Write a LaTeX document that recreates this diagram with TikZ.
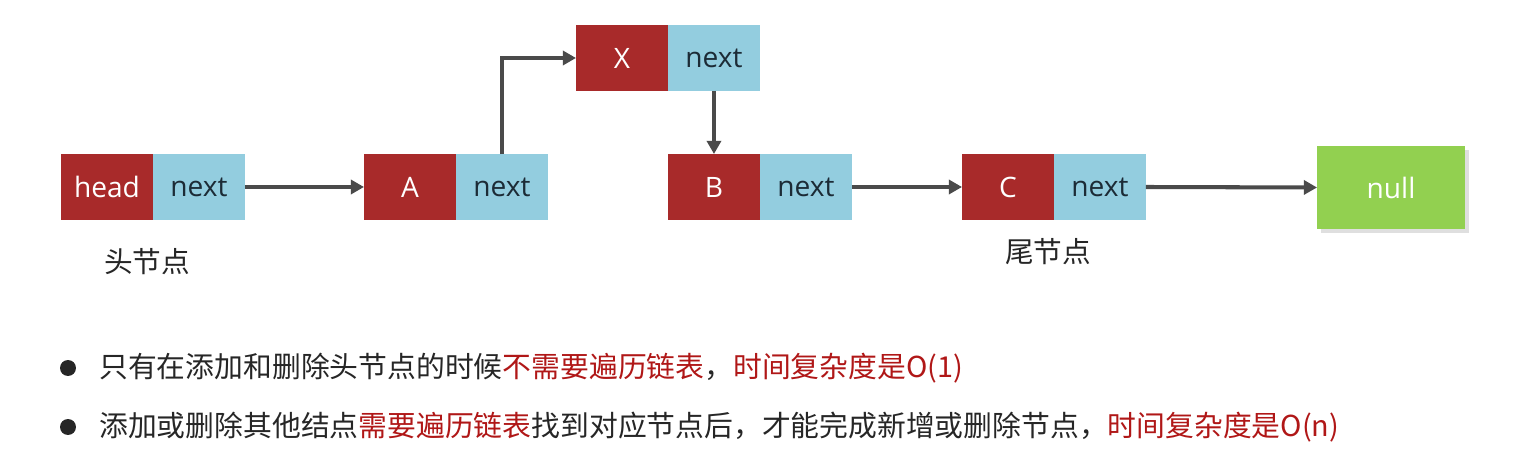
\documentclass[tikz,border=0pt]{standalone}
\usepackage{fontspec}
\setmainfont{Open Sans}
\newfontfamily\cjk{Noto Sans CJK SC}
\usetikzlibrary{arrows.meta,positioning,shadows}
\definecolor{CellRed}{HTML}{A82A2A}
\definecolor{CellBlue}{HTML}{93CDDF}
\definecolor{CellGreen}{HTML}{92D050}
\definecolor{PtrInk}{HTML}{1C2B36}
\definecolor{ArrowGray}{HTML}{4A4A4A}
\definecolor{Ink}{HTML}{262626}
\definecolor{Warn}{HTML}{B01717}

\begin{document}
\begin{tikzpicture}[
  x=0.02cm,y=-0.02cm,
  data/.style={fill=CellRed, text=white, minimum width=1.84cm, minimum height=1.32cm, inner sep=0pt, outer sep=0pt, font=\fontsize{16}{19}\selectfont},
  ptr/.style={fill=CellBlue, text=PtrInk, minimum width=1.84cm, minimum height=1.32cm, inner sep=0pt, outer sep=0pt, font=\fontsize{16}{19}\selectfont},
  nullbox/.style={fill=CellGreen, text=white, minimum width=2.96cm, minimum height=1.66cm, inner sep=0pt, outer sep=0pt, font=\fontsize{16}{19}\selectfont,
    drop shadow={shadow xshift=2pt, shadow yshift=-2pt, opacity=0.25}},
  tag/.style={text=Ink, font=\cjk\fontsize{16.3}{19}\selectfont},
  bullet/.style={circle, fill=Ink, minimum size=0.32cm, inner sep=0pt},
  line/.style={anchor=west, text=Ink, inner sep=0pt, font=\cjk\fontsize{16.4}{20}\selectfont},
  arr/.style={-{Triangle[length=7.5pt, width=8pt]}, line width=2.3pt, draw=ArrowGray}
]
  \useasboundingbox (0,0) rectangle (1518,462);

  % list cells
  \node[data] (hd) at (107,187) {head};
  \node[ptr, right=0pt of hd] (hdn) {next};
  \node[data] (a) at (410,187) {A};
  \node[ptr, right=0pt of a] (an) {next};
  \node[data] (x) at (622,58) {X};
  \node[ptr, right=0pt of x] (xn) {next};
  \node[data] (b) at (714,187) {B};
  \node[ptr, right=0pt of b] (bn) {next};
  \node[data] (c) at (1008,187) {C};
  \node[ptr, right=0pt of c] (cn) {next};
  \node[nullbox] (nul) at (1391,187.5) {null};

  \node[tag] (headtag) at (147,262) {头节点};
  \node[tag] (tailtag) at (1048,252) {尾节点};

  % links
  \draw[arr] (hdn.east) -- (a.west);
  \draw[arr] (an.north) |- (x.west);
  \draw[arr] (xn.south) -- (xn.south |- b.north);
  \draw[arr] (bn.east) -- (c.west);
  \draw[arr] (cn.east) -- (nul.west);

  % notes
  \node[bullet] (d1) at (68,368) {};
  \node[line] (t1) at (99,368) {只有在添加和删除头节点的时候\textcolor{Warn}{不需要遍历链表}，\textcolor{Warn}{时间复杂度是O(1)}};
  \node[bullet] (d2) at (68,427) {};
  \node[line] (t2) at (99,427) {添加或删除其他结点\textcolor{Warn}{需要遍历链表}找到对应节点后，才能完成新增或删除节点，\textcolor{Warn}{时间复杂度是O(n)}};
\end{tikzpicture}
\end{document}
